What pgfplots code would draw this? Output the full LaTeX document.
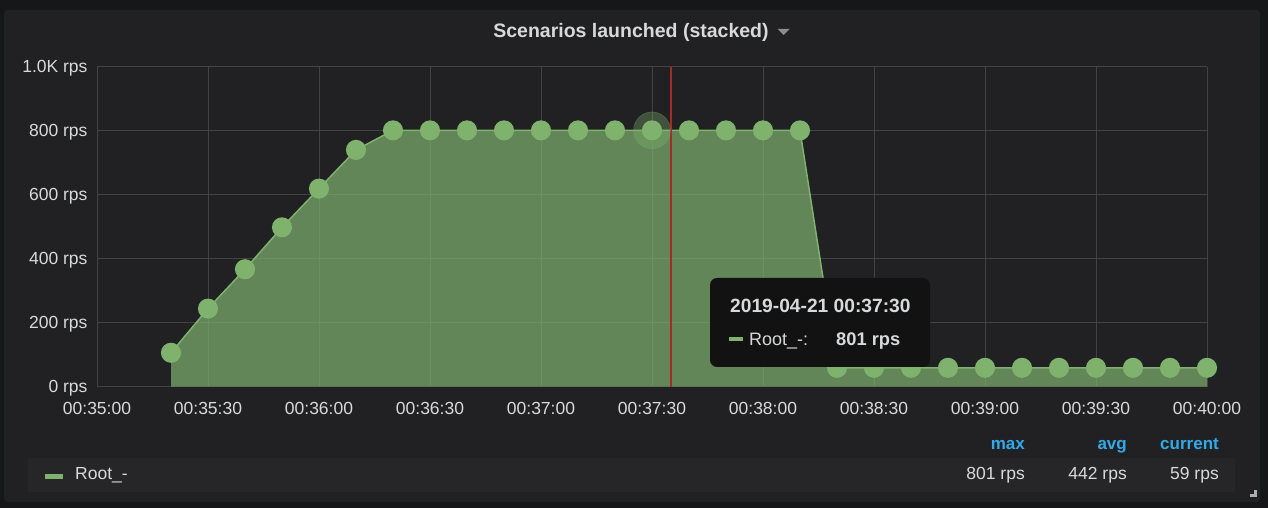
\documentclass[border=0pt]{standalone}
\usepackage{pgfplots}
\pgfplotsset{compat=1.18}
\usepackage{fontspec}
\setmainfont{Liberation Sans}
\definecolor{outerbg}{RGB}{22,23,25}
\definecolor{panelbg}{RGB}{33,33,36}
\definecolor{legrow}{RGB}{38,38,41}
\definecolor{gridcol}{RGB}{66,66,68}
\definecolor{txt}{RGB}{216,217,218}
\definecolor{gr}{RGB}{126,178,109}
\definecolor{redl}{RGB}{163,43,40}
\definecolor{tipbg}{RGB}{18,18,18}
\definecolor{blu}{RGB}{51,170,229}
\definecolor{caret}{RGB}{140,140,144}
\pgfplotstableread{
t v
20 106
30 244
40 367
50 498
60 619
70 740
80 801
90 801
100 801
110 801
120 801
130 801
140 801
150 801
160 801
170 801
180 801
190 801
200 59
210 59
220 59
230 59
240 59
250 59
260 59
270 59
280 59
290 59
300 59
}\rps
\newcommand{\fs}{\fontsize{17.5}{20}\selectfont}
\begin{document}
\begin{tikzpicture}[x=1pt,y=1pt]
\useasboundingbox (0,0) rectangle (1268,508);
\fill[outerbg] (0,0) rectangle (1268,508);
\fill[panelbg, rounded corners=3pt] (4,6) rectangle (1260,498);
\fill[legrow] (28,16) rectangle (1235,50);
\node[anchor=base, text=txt, font=\bfseries\fontsize{19.5}{22}\selectfont, inner sep=0pt] at (631,470.7) {Scenarios launched (stacked)};
\fill[caret] (777.5,479) -- (789.5,479) -- (783.5,473) -- cycle;
\begin{axis}[
  at={(97pt,121.3pt)}, anchor=south west,
  scale only axis, width=1110pt, height=320pt,
  xmin=0, xmax=300, ymin=0, ymax=1000,
  clip=false,
  axis line style={draw=none},
  major tick length=0pt,
  grid=major,
  grid style={gridcol, line width=1pt},
  xtick={0,30,...,300},
  xticklabels={00:35:00,00:35:30,00:36:00,00:36:30,00:37:00,00:37:30,00:38:00,00:38:30,00:39:00,00:39:30,00:40:00},
  ytick={0,200,...,1000},
  yticklabels={0 rps,200 rps,400 rps,600 rps,800 rps,1.0K rps},
  tick label style={text=txt, font=\fs},
  xticklabel style={yshift=-12pt},
  yticklabel style={xshift=-6pt, yshift=-1.5pt},
]
\addplot[draw=none, fill=gr, fill opacity=0.7] table[x=t,y=v]{\rps} \closedcycle;
\addplot[gr, opacity=0.35, only marks, mark=*, mark size=18.5pt, mark options={draw=none, fill=gr}] coordinates {(150,801)};
\addplot[gr, line width=1.5pt, mark=*, mark size=9.3pt, mark options={draw=none, fill=gr}] table[x=t,y=v]{\rps};
\draw[redl, line width=2pt] (axis cs:155,0) -- (axis cs:155,1000);
\end{axis}
% tooltip
\fill[tipbg, rounded corners=7pt] (710,141) rectangle (930,230);
\node[anchor=base west, text=txt, font=\bfseries\fontsize{19.2}{22}\selectfont, inner sep=0pt] at (730,195.7) {2019-04-21 00:37:30};
\draw[gr, line width=4pt] (729,169.3) -- (743,169.3);
\node[anchor=base west, text=txt, font=\fontsize{18}{20}\selectfont, inner sep=0pt] at (749,162) {Root\_-:};
\node[anchor=base west, text=txt, font=\bfseries\fontsize{18.3}{20}\selectfont, inner sep=0pt] at (836,162) {801 rps};
% legend
\draw[gr, line width=5.3pt] (45,31.3) -- (63.3,31.3);
\node[anchor=base west, text=txt, font=\fs, inner sep=0pt] at (75,28) {Root\_-};
\node[anchor=base east, text=blu, font=\bfseries\fontsize{17}{20}\selectfont, inner sep=0pt] at (1025,58.7) {max};
\node[anchor=base east, text=blu, font=\bfseries\fontsize{17}{20}\selectfont, inner sep=0pt] at (1127,58.7) {avg};
\node[anchor=base east, text=blu, font=\bfseries\fontsize{17}{20}\selectfont, inner sep=0pt] at (1219,58.7) {current};
\node[anchor=base east, text=txt, font=\fs, inner sep=0pt] at (1025,28) {801 rps};
\node[anchor=base east, text=txt, font=\fs, inner sep=0pt] at (1127,28) {442 rps};
\node[anchor=base east, text=txt, font=\fs, inner sep=0pt] at (1219,28) {59 rps};
% resize handle
\fill[caret!70] (1250,11) rectangle (1257,14);
\fill[caret!70] (1254,11) rectangle (1257,18);
\end{tikzpicture}
\end{document}
